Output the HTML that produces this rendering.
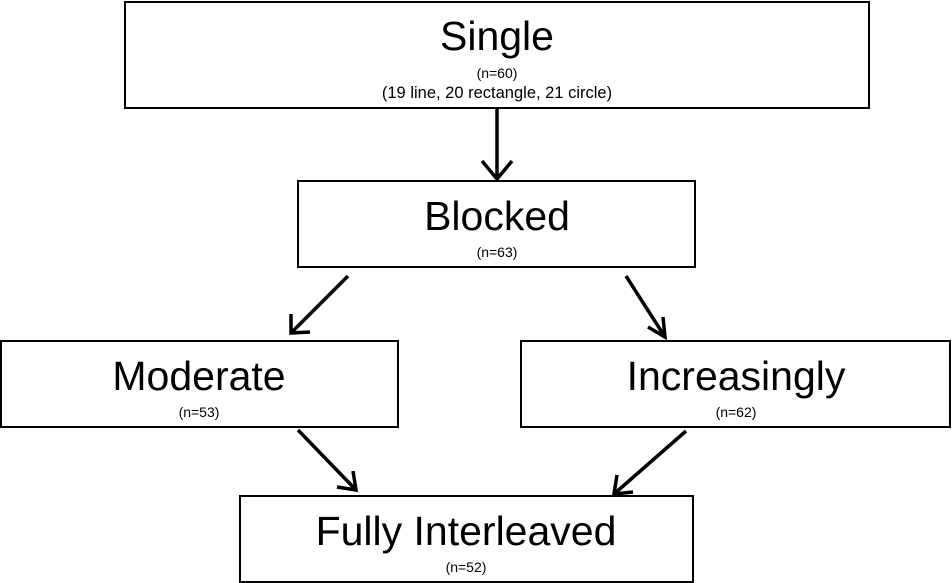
<!DOCTYPE html>
<html><head><style>
html,body{margin:0;padding:0;background:#fff;}
svg{display:block;}
text{font-family:"Liberation Sans",Arial,sans-serif;fill:#000;}
</style></head><body>
<svg width="952" height="583" viewBox="0 0 952 583" xmlns="http://www.w3.org/2000/svg">
<g fill="none" stroke="#000" stroke-width="2">
<rect x="125" y="2" width="744" height="106"/>
<rect x="298" y="181" width="397" height="86"/>
<rect x="1" y="341" width="397" height="86"/>
<rect x="521" y="341" width="429" height="86"/>
<rect x="240" y="496" width="453" height="86"/>
</g>
<g fill="none" stroke="#000" stroke-width="3.5" stroke-linecap="butt">
<line x1="497" y1="108" x2="497" y2="179"/>
<polyline points="482,161 497,179 512,161"/>
<line x1="348" y1="276" x2="291" y2="333"/>
<polyline points="291,314 291,333 310,332"/>
<line x1="626" y1="276" x2="665" y2="337"/>
<polyline points="663,317 665,337 648,327"/>
<line x1="298" y1="430" x2="356" y2="490"/>
<polyline points="337,487 356,490 353,471"/>
<line x1="686" y1="431" x2="614" y2="494"/>
<polyline points="617,475 614,494 633,492"/>
</g>
<g text-anchor="middle">
<text x="497" y="50" font-size="41">Single</text>
<text x="497" y="78" font-size="14">(n=60)</text>
<text x="497" y="98" font-size="16.5">(19 line, 20 rectangle, 21 circle)</text>
<text x="497" y="230" font-size="41">Blocked</text>
<text x="497" y="257" font-size="14">(n=63)</text>
<text x="199" y="390" font-size="41">Moderate</text>
<text x="199" y="417" font-size="14">(n=53)</text>
<text x="736" y="390" font-size="41">Increasingly</text>
<text x="736" y="417" font-size="14">(n=62)</text>
<text x="466" y="545" font-size="41">Fully Interleaved</text>
<text x="466" y="572" font-size="14">(n=52)</text>
</g>
</svg>
</body></html>
